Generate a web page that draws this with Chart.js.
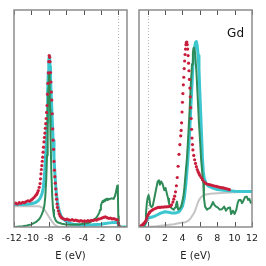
<!DOCTYPE html>
<html>
<head>
<meta charset="utf-8">
<script src="https://cdn.jsdelivr.net/npm/chart.js@4.4.1/dist/chart.umd.min.js"></script>
<style>
  html, body { margin: 0; padding: 0; background: #fff; }
  #wrap { position: relative; width: 266px; height: 266px; }
  .panel { position: absolute; top: 0; width: 133px; height: 266px; }
</style>
</head>
<body>
<div id="wrap">
  <div class="panel" style="left:0"><canvas id="leftChart"></canvas></div>
  <div class="panel" style="left:133px"><canvas id="rightChart"></canvas></div>
</div>
<script>
// tick labels
const leftTicks = [-12, -10, -8, -6, -4, -2, 0];
const rightTicks = [0, 2, 4, 6, 8, 10, 12];

// left panel: experiment (dots)
const leftRedE = [
  -12, -11.8, -11.6, -11.4, -11.2, -11, -10.8, -10.6, -10.4, -10.2,
  -10, -9.85, -9.7, -9.55, -9.4, -9.3, -9.2, -9.1, -9.0, -8.95,
  -8.9, -8.85, -8.8, -8.75, -8.7, -8.65, -8.6, -8.55, -8.5, -8.45,
  -8.4, -8.35, -8.3, -8.25, -8.2, -8.15, -8.1, -8.05, -8.0, -7.95,
  -7.9, -7.85, -7.8, -7.75, -7.7, -7.65, -7.6, -7.55, -7.5, -7.45,
  -7.4, -7.35, -7.3, -7.25, -7.2, -7.15, -7.1, -7.05, -7.0, -6.9,
  -6.8, -6.7, -6.6, -6.5, -6.3, -6.1, -5.9, -5.7, -5.5, -5.3,
  -5.1, -4.9, -4.7, -4.5, -4.3, -4.1, -3.9, -3.7, -3.5, -3.3,
  -3.1, -2.9, -2.7, -2.5, -2.3, -2.1, -1.9, -1.7, -1.5, -1.3,
  -1.1, -0.9, -0.7, -0.5, -0.3, -0.1, 0.0, 0.1
];
const leftRedI = [
  0.108, 0.110, 0.106, 0.112, 0.109, 0.114, 0.112, 0.117, 0.121, 0.119,
  0.125, 0.130, 0.136, 0.143, 0.150, 0.158, 0.168, 0.183, 0.200, 0.222,
  0.245, 0.265, 0.283, 0.303, 0.322, 0.345, 0.368, 0.392, 0.413, 0.433,
  0.455, 0.476, 0.500, 0.528, 0.560, 0.612, 0.662, 0.710, 0.762, 0.790,
  0.782, 0.762, 0.712, 0.668, 0.622, 0.585, 0.522, 0.452, 0.400, 0.358,
  0.302, 0.262, 0.232, 0.202, 0.176, 0.150, 0.128, 0.106, 0.090, 0.074,
  0.061, 0.052, 0.046, 0.042, 0.038, 0.034, 0.036, 0.033, 0.031, 0.034,
  0.030, 0.032, 0.029, 0.027, 0.029, 0.026, 0.028, 0.026, 0.029, 0.027,
  0.031, 0.030, 0.033, 0.032, 0.036, 0.038, 0.041, 0.044, 0.047, 0.043,
  0.040, 0.041, 0.037, 0.039, 0.035, 0.033, 0.018, 0.004
];

// left panel: broadened spectrum (cyan)
const leftCyanE = [
  -12, -11, -10.5, -10, -9.5, -9.2, -9.0, -8.8, -8.7, -8.6,
  -8.5, -8.4, -8.3, -8.2, -8.15, -8.1, -8.05, -8.0, -7.95, -7.9,
  -7.85, -7.8, -7.7, -7.6, -7.5, -7.4, -7.3, -7.2, -7.1, -7.0,
  -6.9, -6.8, -6.6, -6.4, -6.2, -6.0, -5.5, -5.0, -4.0, -3.0,
  -2.0, -1.5, -1.0, -0.5, -0.1, 0.0, 0.05, 1.0
];
const leftCyanI = [
  0.104, 0.104, 0.105, 0.107, 0.113, 0.122, 0.132, 0.150, 0.165, 0.190,
  0.235, 0.300, 0.380, 0.480, 0.550, 0.630, 0.715, 0.770, 0.785, 0.775,
  0.740, 0.690, 0.590, 0.500, 0.400, 0.320, 0.250, 0.190, 0.145, 0.115,
  0.092, 0.075, 0.052, 0.040, 0.032, 0.026, 0.016, 0.011, 0.008, 0.010,
  0.013, 0.016, 0.019, 0.021, 0.022, 0.012, 0.000, 0.000
];

// left panel: calculated DOS (green)
const leftGreenE = [
  -12, -11, -10.5, -10, -9.5, -9.2, -9.0, -8.8, -8.6, -8.5,
  -8.4, -8.3, -8.2, -8.15, -8.1, -8.05, -8.0, -7.95, -7.9, -7.85,
  -7.8, -7.7, -7.6, -7.5, -7.4, -7.2, -7.0, -6.5, -6.0, -5.5,
  -5.0, -4.5, -4.0, -3.5, -3.2, -3.0, -2.8, -2.6, -2.4, -2.2,
  -2.1, -2.0, -1.9, -1.8, -1.7, -1.6, -1.5, -1.4, -1.3, -1.2,
  -1.0, -0.8, -0.6, -0.5, -0.4, -0.3, -0.2, -0.12, -0.05, 0.0,
  0.05, 1.0
];
const leftGreenI = [
  0.000, 0.003, 0.007, 0.012, 0.022, 0.032, 0.042, 0.058, 0.080, 0.100,
  0.140, 0.210, 0.330, 0.430, 0.540, 0.640, 0.700, 0.710, 0.650, 0.540,
  0.420, 0.250, 0.140, 0.080, 0.050, 0.030, 0.022, 0.015, 0.012, 0.010,
  0.012, 0.012, 0.015, 0.018, 0.022, 0.030, 0.035, 0.040, 0.050, 0.065,
  0.080, 0.100, 0.110, 0.120, 0.115, 0.125, 0.120, 0.130, 0.125, 0.130,
  0.128, 0.132, 0.130, 0.135, 0.140, 0.155, 0.175, 0.190, 0.160, 0.050,
  0.000, 0.000
];

// left panel: background (gray)
const leftGrayE = [-12, -10, -9.3, -9.0, -8.8, -8.6, -8.4, -8.2, -8.0, -7.8, -7.6, -7.4, -7.2, -7.0, -6.8, -6.5, 1.0];
const leftGrayI = [0.096, 0.096, 0.096, 0.094, 0.090, 0.084, 0.074, 0.061, 0.048, 0.035, 0.024, 0.014, 0.007, 0.003, 0.001, 0.000, 0.000];

// right panel: experiment (dots)
const rightRedE = [
  -1.0, -0.9, -0.8, -0.7, -0.6, -0.5, -0.4, -0.3, -0.2, -0.1,
  0.0, 0.1, 0.2, 0.3, 0.45, 0.6, 0.8, 1.0, 1.2, 1.4,
  1.6, 1.8, 2.0, 2.2, 2.4, 2.6, 2.75, 2.9, 3.0, 3.1,
  3.2, 3.3, 3.4, 3.5, 3.6, 3.7, 3.8, 3.85, 3.9, 3.95,
  4.0, 4.05, 4.1, 4.15, 4.2, 4.25, 4.3, 4.35, 4.4, 4.45,
  4.5, 4.55, 4.6, 4.65, 4.7, 4.75, 4.8, 4.85, 4.9, 4.95,
  5.0, 5.05, 5.1, 5.15, 5.2, 5.3, 5.4, 5.5, 5.6, 5.7,
  5.8, 5.9, 6.0, 6.15, 6.3, 6.5, 6.7, 6.9, 7.1, 7.3,
  7.5, 7.7, 7.9, 8.1, 8.3, 8.5, 8.7, 8.9, 9.1, 9.3,
  9.4
];
const rightRedI = [
  0.000, 0.002, 0.004, 0.007, 0.010, 0.014, 0.018, 0.023, 0.030, 0.040,
  0.052, 0.060, 0.066, 0.071, 0.076, 0.080, 0.084, 0.087, 0.090, 0.090,
  0.092, 0.092, 0.093, 0.093, 0.094, 0.096, 0.102, 0.115, 0.128, 0.142,
  0.162, 0.190, 0.228, 0.280, 0.335, 0.380, 0.420, 0.445, 0.480, 0.530,
  0.575, 0.615, 0.655, 0.690, 0.730, 0.765, 0.795, 0.820, 0.840, 0.850,
  0.852, 0.840, 0.820, 0.790, 0.755, 0.720, 0.680, 0.640, 0.600, 0.550,
  0.500, 0.450, 0.410, 0.380, 0.355, 0.330, 0.310, 0.293, 0.278, 0.265,
  0.255, 0.247, 0.238, 0.228, 0.218, 0.208, 0.201, 0.197, 0.195, 0.193,
  0.191, 0.189, 0.187, 0.185, 0.183, 0.181, 0.180, 0.178, 0.176, 0.174,
  0.172
];

// right panel: broadened spectrum (cyan)
const rightCyanE = [
  -1.0, -0.6, -0.4, -0.2, 0.0, 0.3, 0.6, 1.0, 1.5, 2.0,
  2.4, 2.8, 3.2, 3.6, 3.8, 4.0, 4.2, 4.4, 4.6, 4.8,
  5.0, 5.2, 5.35, 5.5, 5.6, 5.7, 5.8, 5.9, 6.0, 6.1,
  6.2, 6.3, 6.4, 6.5, 6.7, 7.0, 7.5, 8.0, 9.0, 10.0,
  11.0, 12.0
];
const rightCyanI = [
  0.000, 0.000, 0.006, 0.022, 0.040, 0.044, 0.047, 0.054, 0.064, 0.070,
  0.068, 0.064, 0.064, 0.070, 0.080, 0.095, 0.130, 0.200, 0.300, 0.420,
  0.580, 0.740, 0.820, 0.850, 0.855, 0.835, 0.790, 0.730, 0.620, 0.520,
  0.420, 0.315, 0.255, 0.225, 0.202, 0.188, 0.179, 0.173, 0.168, 0.165,
  0.164, 0.164
];

// right panel: calculated DOS (green)
const rightGreenE = [
  -1.0, -0.4, -0.3, -0.2, -0.1, 0.0, 0.1, 0.2, 0.3, 0.45,
  0.6, 0.75, 0.9, 1.05, 1.15, 1.3, 1.4, 1.53, 1.7, 1.9,
  2.05, 2.2, 2.35, 2.45, 2.6, 2.8, 3.0, 3.15, 3.25, 3.37,
  3.5, 3.7, 3.85, 3.95, 4.1, 4.2, 4.37, 4.52, 4.64, 4.8,
  4.95, 5.1, 5.2, 5.28, 5.36, 5.45, 5.6, 5.75, 5.9, 6.02,
  6.15, 6.3, 6.4, 6.47, 6.6, 6.83, 7.0, 7.17, 7.35, 7.5,
  7.7, 7.86, 8.05, 8.3, 8.55, 8.8, 9.0, 9.24, 9.47, 9.6,
  9.8, 10.0, 10.2, 10.35, 10.5, 10.7, 10.85, 11.0, 11.2, 11.4,
  11.55, 11.7, 11.85, 12.0
];
const rightGreenI = [
  0.000, 0.000, 0.020, 0.060, 0.110, 0.135, 0.147, 0.130, 0.100, 0.092,
  0.100, 0.130, 0.160, 0.190, 0.210, 0.215, 0.195, 0.210, 0.200, 0.170,
  0.180, 0.155, 0.130, 0.110, 0.092, 0.085, 0.080, 0.090, 0.100, 0.117,
  0.080, 0.085, 0.095, 0.110, 0.140, 0.170, 0.250, 0.320, 0.400, 0.520,
  0.650, 0.750, 0.800, 0.825, 0.825, 0.800, 0.720, 0.600, 0.480, 0.400,
  0.310, 0.240, 0.200, 0.134, 0.094, 0.080, 0.085, 0.088, 0.100, 0.115,
  0.100, 0.094, 0.090, 0.080, 0.082, 0.094, 0.075, 0.088, 0.090, 0.060,
  0.075, 0.060, 0.080, 0.110, 0.125, 0.125, 0.110, 0.120, 0.138, 0.140,
  0.125, 0.130, 0.112, 0.115
];

// right panel: background (gray)
const rightGrayE = [-1.0, 0.0, 1.0, 2.0, 3.0, 3.7, 4.3, 4.6, 4.9, 5.1, 5.3, 5.45, 5.6, 5.8, 6.0, 6.2, 6.4, 6.7, 7.2, 8.0, 9.0, 10.0, 11.0, 12.0];
const rightGrayI = [0.000, 0.000, 0.003, 0.008, 0.013, 0.018, 0.022, 0.027, 0.038, 0.050, 0.062, 0.075, 0.092, 0.115, 0.130, 0.140, 0.145, 0.150, 0.153, 0.156, 0.158, 0.160, 0.161, 0.162];

const RED = '#c81e3c';
const CYAN = '#3cc6d0';
const GREEN = '#2e8b57';
const GRAY = '#c4c4c4';

const pts = (xs, ys) => xs.map((x, i) => ({ x: x, y: ys[i] }));

// frame, inward ticks, dotted zero line, panel label
const framePlugin = {
  id: 'frame',
  beforeDatasetsDraw(chart) {
    const { ctx, chartArea: a, scales: { x } } = chart;
    const x0 = Math.round(x.getPixelForValue(0)) + 0.5;
    ctx.save();
    ctx.strokeStyle = '#b5b5b5';
    ctx.lineWidth = 1;
    ctx.setLineDash([1, 2]);
    ctx.beginPath();
    ctx.moveTo(x0, a.top);
    ctx.lineTo(x0, a.bottom);
    ctx.stroke();
    ctx.restore();
  },
  afterDatasetsDraw(chart, args, opts) {
    const { ctx, chartArea: a, scales: { x } } = chart;
    ctx.save();
    ctx.strokeStyle = '#555';
    ctx.lineWidth = 1;
    x.ticks.forEach(t => {
      const px = Math.round(x.getPixelForValue(t.value)) + 0.5;
      ctx.beginPath();
      ctx.moveTo(px, a.top);
      ctx.lineTo(px, a.top + 5);
      ctx.moveTo(px, a.bottom);
      ctx.lineTo(px, a.bottom - 5);
      ctx.stroke();
    });
    ctx.strokeStyle = '#8c8c8c';
    ctx.lineWidth = 1.5;
    ctx.strokeRect(a.left, a.top, a.width, a.height);
    if (opts && opts.label) {
      ctx.fillStyle = '#111';
      ctx.font = '12px "DejaVu Sans"';
      ctx.textAlign = 'right';
      ctx.textBaseline = 'alphabetic';
      ctx.fillText(opts.label, a.right - 8, a.top + 26.5);
    }
    ctx.restore();
  }
};

function makePanel(id, red, green, cyan, gray, xmin, xmax, ticks, pad, label) {
  const ctx = document.getElementById(id);
  if (!ctx) return;
  const line = { pointRadius: 0, tension: 0, borderJoinStyle: 'round', borderCapStyle: 'round' };
  new Chart(ctx, {
    type: 'line',
    data: {
      datasets: [
        { data: red, showLine: false, pointRadius: 1.6, pointBackgroundColor: RED, pointBorderWidth: 0 },
        { ...line, data: green, borderColor: GREEN, borderWidth: 2 },
        { ...line, data: cyan, borderColor: CYAN, borderWidth: 3 },
        { ...line, data: gray, borderColor: GRAY, borderWidth: 2 }
      ]
    },
    options: {
      responsive: true,
      maintainAspectRatio: false,
      animation: false,
      events: [],
      layout: { padding: pad },
      plugins: {
        legend: { display: false },
        tooltip: { enabled: false },
        frame: { label: label }
      },
      scales: {
        x: {
          type: 'linear',
          min: xmin,
          max: xmax,
          afterBuildTicks: s => { s.ticks = ticks.map(v => ({ value: v })); },
          afterFit: s => { s.height = 39; },
          grid: { display: false, drawTicks: false },
          border: { display: false },
          ticks: {
            padding: 6,
            maxRotation: 0,
            autoSkip: false,
            color: '#222',
            font: { family: 'DejaVu Sans', size: 9.5 }
          },
          title: {
            display: true,
            text: 'E (eV)',
            color: '#222',
            font: { family: 'DejaVu Sans', size: 10 },
            padding: { top: 0, bottom: 4 }
          }
        },
        y: { display: false, min: 0, max: 1 }
      }
    },
    plugins: [framePlugin]
  });
}

makePanel('leftChart',
  pts(leftRedE, leftRedI), pts(leftGreenE, leftGreenI),
  pts(leftCyanE, leftCyanI), pts(leftGrayE, leftGrayI),
  -12, 1, leftTicks, { top: 10, left: 14, right: 6, bottom: 0 }, '');

makePanel('rightChart',
  pts(rightRedE, rightRedI), pts(rightGreenE, rightGreenI),
  pts(rightCyanE, rightCyanI), pts(rightGrayE, rightGrayI),
  -1, 12, rightTicks, { top: 10, left: 6, right: 14, bottom: 0 }, 'Gd');
</script>
</body>
</html>
